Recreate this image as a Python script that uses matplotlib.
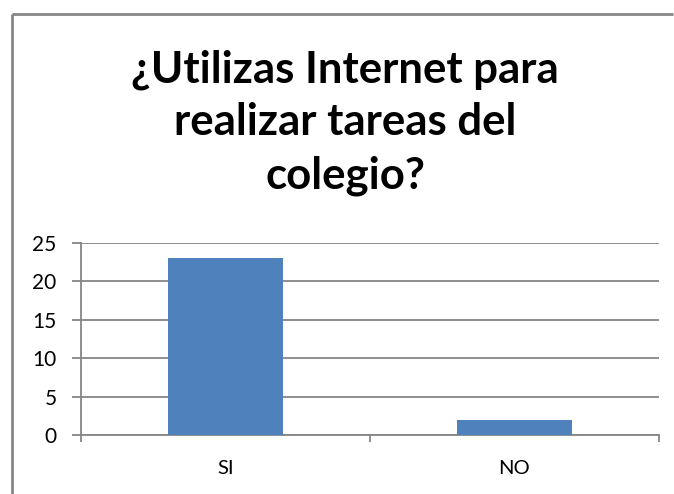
import matplotlib
matplotlib.use('Agg')
import matplotlib.pyplot as plt
from matplotlib.lines import Line2D

# datos
categorias = ['SI', 'NO']
respuestas = [23, 2]
titulo = ['¿Utilizas Internet para', 'realizar tareas del', 'colegio?']

gris = '#868686'
azul = '#4F81BD'

plt.rcParams['font.family'] = ['Lato', 'DejaVu Sans']

fig = plt.figure(figsize=(6.74, 4.94), dpi=100)
ax = fig.add_axes([81/674, 1 - 435/494, 578/674, 192/494])

x = list(range(len(categorias)))
ax.bar(x, respuestas, width=0.4, color=azul, zorder=3)

ax.set_xlim(-0.5, len(categorias) - 0.5)
ax.set_ylim(0, 25)
ax.set_yticks([0, 5, 10, 15, 20, 25])
ax.yaxis.grid(True, color=gris, linewidth=1.3, zorder=0)

ax.set_xticks(x)
ax.set_xticklabels(categorias)
ax.set_xticks([i - 0.5 for i in range(len(categorias) + 1)], minor=True)
ax.tick_params(axis='x', which='major', length=0, pad=18, labelsize=14.5)
ax.tick_params(axis='x', which='minor', length=5, width=1.3, color=gris, direction='out')
ax.tick_params(axis='y', length=6.5, width=1.3, color=gris, pad=11, labelsize=15)

for s in ['top', 'right']:
    ax.spines[s].set_visible(False)
for s in ['left', 'bottom']:
    ax.spines[s].set_color(gris)
    ax.spines[s].set_linewidth(1.3)

# titulo en tres lineas
for linea, yb in zip(titulo, [82, 135, 188]):
    fig.text(0.512, 1 - yb/494, linea, ha='center', va='baseline',
             fontsize=31.5, fontweight='bold')

# borde del grafico (solo se ven izquierda y arriba)
bx = 12.5/674
by = 1 - 14.5/494
fig.add_artist(Line2D([bx, bx], [0, by], transform=fig.transFigure, color=gris,
                      linewidth=2, solid_capstyle='butt'))
fig.add_artist(Line2D([bx, 673/674], [by, by], transform=fig.transFigure, color=gris,
                      linewidth=2, solid_capstyle='butt'))

fig.savefig('out.png', dpi=100)
